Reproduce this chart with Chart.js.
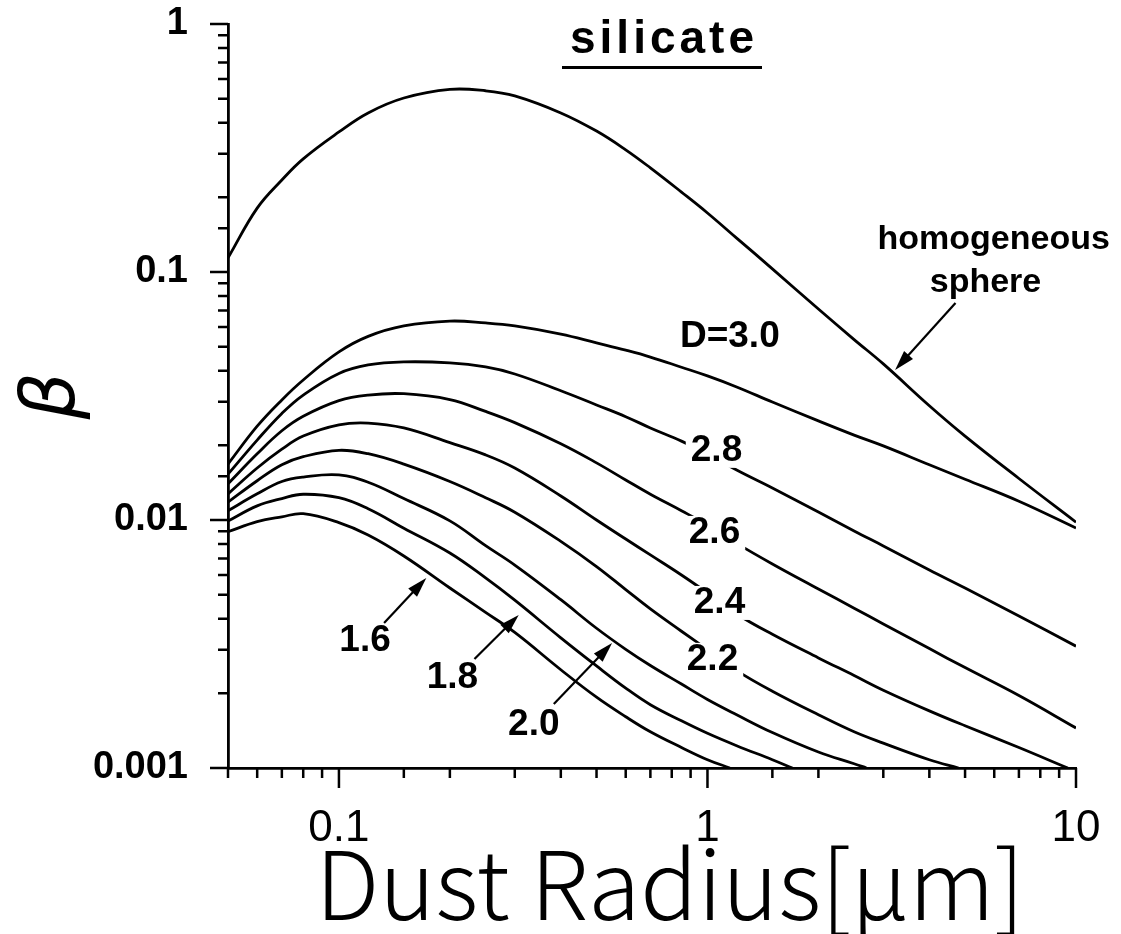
<!DOCTYPE html>
<html>
<head>
<meta charset="utf-8">
<script src="https://cdn.jsdelivr.net/npm/chart.js@4.4.1/dist/chart.umd.min.js"></script>
<style>
  html, body { margin: 0; padding: 0; background: #fff; }
</style>
</head>
<body>
<canvas id="betaChart" width="1121" height="934"></canvas>
<script>
// dust radius grid [um] shared by all curves
const radius = [0.05, 0.06, 0.07, 0.08, 0.1, 0.12, 0.15, 0.2, 0.25, 0.3, 0.4, 0.5, 0.6, 0.7, 0.85, 1, 1.2, 1.5, 2, 2.5, 3, 4, 5, 7, 10];

// beta, one list per curve
const homogeneous = [0.114, 0.181, 0.235, 0.286, 0.367, 0.438, 0.503, 0.545, 0.538, 0.513, 0.438, 0.370, 0.311, 0.263, 0.210, 0.173, 0.137, 0.103, 0.0709, 0.0534, 0.0426, 0.0289, 0.0218, 0.0147, 0.0098];
const d30 = [0.0168, 0.0239, 0.0305, 0.0367, 0.0476, 0.0550, 0.0606, 0.0634, 0.0623, 0.0606, 0.0562, 0.0518, 0.0484, 0.0454, 0.0413, 0.0381, 0.0344, 0.0299, 0.0251, 0.0220, 0.0199, 0.0167, 0.0146, 0.0119, 0.00928];
const d28 = [0.0153, 0.0210, 0.0269, 0.0319, 0.0390, 0.0422, 0.0434, 0.0430, 0.0414, 0.0388, 0.0332, 0.0291, 0.0261, 0.0235, 0.0208, 0.0185, 0.0159, 0.01346, 0.01077, 0.00903, 0.00786, 0.00629, 0.00532, 0.00410, 0.00310];
const d26 = [0.0140, 0.0185, 0.0229, 0.0262, 0.0303, 0.0319, 0.0323, 0.0306, 0.0274, 0.0247, 0.0203, 0.0170, 0.0145, 0.0127, 0.0109, 0.00954, 0.00805, 0.00665, 0.00527, 0.00441, 0.00381, 0.00303, 0.00254, 0.00196, 0.00145];
const d24 = [0.01275, 0.0162, 0.0193, 0.0218, 0.0242, 0.0246, 0.0235, 0.0205, 0.0183, 0.0162, 0.0125, 0.0100, 0.00838, 0.00723, 0.00600, 0.00508, 0.00418, 0.00346, 0.00278, 0.00236, 0.00206, 0.00170, 0.00148, 0.00121];
const d22 = [0.0118, 0.0144, 0.0167, 0.0180, 0.0191, 0.0185, 0.0168, 0.0143, 0.0123, 0.01075, 0.0082, 0.00649, 0.00524, 0.00438, 0.00356, 0.00300, 0.00247, 0.00204, 0.00164, 0.00140, 0.00126, 0.00108];
const d20 = [0.0109, 0.01275, 0.0143, 0.0149, 0.0152, 0.0142, 0.0122, 0.00992, 0.00788, 0.00658, 0.00477, 0.00366, 0.00301, 0.00259, 0.00218, 0.00189, 0.00164, 0.00139, 0.00116, 0.00104];
const d18 = [0.0099, 0.0114, 0.0122, 0.0127, 0.0123, 0.0111, 0.00927, 0.00736, 0.00584, 0.00475, 0.00335, 0.00258, 0.00210, 0.00180, 0.00155, 0.00138, 0.00123, 0.00108];
const d16 = [0.00897, 0.00985, 0.0103, 0.0106, 0.00976, 0.0087, 0.00716, 0.00532, 0.00424, 0.00352, 0.00249, 0.00193, 0.00161, 0.00140, 0.00121, 0.00108];

// radius where a curve runs into the bottom of the frame (beta = 0.001)
const curveNames = ['homogeneous', 'D=3.0', 'D=2.8', 'D=2.6', 'D=2.4', 'D=2.2', 'D=2.0', 'D=1.8', 'D=1.6'];
const curveValues = [homogeneous, d30, d28, d26, d24, d22, d20, d18, d16];
const bottomRadius = [null, null, null, null, 9.5, 4.8, 2.7, 1.7, 1.15];

const xTickLabels = ['0.1', '1', '10'];
const yTickLabels = ['0.001', '0.01', '0.1', '1'];

// text on the plot, in data coordinates
const notes = [
  { text: 'D=3.0', x: 1.15, y: 0.055 },
  { text: '2.8', x: 1.058, y: 0.0190, gap: true },
  { text: '2.6', x: 1.045, y: 0.00887, gap: true },
  { text: '2.4', x: 1.078, y: 0.00463, gap: true },
  { text: '2.2', x: 1.032, y: 0.00273, gap: true },
  { text: '1.6', x: 0.1177, y: 0.00325 },
  { text: '1.8', x: 0.2032, y: 0.00231 },
  { text: '2.0', x: 0.3378, y: 0.00150 },
  { text: 'homogeneous', x: 5.98, y: 0.1346, small: true },
  { text: 'sphere', x: 5.68, y: 0.0903, small: true }
];
const arrows = [
  { from: [4.71, 0.075], to: [3.23, 0.0403] },
  { from: [0.1326, 0.00384], to: [0.1726, 0.00584] },
  { from: [0.2332, 0.00275], to: [0.3075, 0.00414] },
  { from: [0.3829, 0.00181], to: [0.551, 0.00319] }
];

function isDecade(v) {
  const l = Math.log10(v);
  return Math.abs(l - Math.round(l)) < 1e-6;
}

const datasets = curveValues.map((vals, i) => {
  const pts = vals.map((b, j) => ({ x: radius[j], y: b }));
  if (bottomRadius[i]) pts.push({ x: bottomRadius[i], y: 0.001 });
  return { label: curveNames[i], data: pts };
});

// outward ticks, long at decades, short in between
const tickMarks = {
  id: 'tickMarks',
  afterDraw(chart) {
    const ctx = chart.ctx;
    const { x, y } = chart.scales;
    ctx.save();
    ctx.strokeStyle = '#000';
    ctx.lineWidth = 2.5;
    ctx.beginPath();
    x.ticks.forEach(t => {
      const px = x.getPixelForValue(t.value);
      ctx.moveTo(px, x.top);
      ctx.lineTo(px, x.top + (isDecade(t.value) ? 20 : 10));
    });
    y.ticks.forEach(t => {
      const py = y.getPixelForValue(t.value);
      ctx.moveTo(y.right, py);
      ctx.lineTo(y.right - (isDecade(t.value) ? 18 : 10), py);
    });
    ctx.stroke();
    ctx.restore();
  }
};

function drawArrow(ctx, x1, y1, x2, y2) {
  const a = Math.atan2(y2 - y1, x2 - x1);
  const head = 20, half = 6;
  ctx.beginPath();
  ctx.moveTo(x1, y1);
  ctx.lineTo(x2 - head * 0.8 * Math.cos(a), y2 - head * 0.8 * Math.sin(a));
  ctx.stroke();
  ctx.beginPath();
  ctx.moveTo(x2, y2);
  ctx.lineTo(x2 - head * Math.cos(a) + half * Math.sin(a), y2 - head * Math.sin(a) - half * Math.cos(a));
  ctx.lineTo(x2 - head * Math.cos(a) - half * Math.sin(a), y2 - head * Math.sin(a) + half * Math.cos(a));
  ctx.closePath();
  ctx.fill();
}

const annotations = {
  id: 'annotations',
  afterDatasetsDraw(chart) {
    const ctx = chart.ctx;
    const { x, y } = chart.scales;
    ctx.save();
    ctx.textAlign = 'center';
    ctx.textBaseline = 'middle';
    notes.forEach(n => {
      const px = x.getPixelForValue(n.x);
      const py = y.getPixelForValue(n.y);
      ctx.font = n.small ? 'bold 34px "Liberation Sans", Arial, sans-serif' : 'bold 37px "Liberation Sans", Arial, sans-serif';
      if (n.gap) {
        const w = ctx.measureText(n.text).width;
        ctx.fillStyle = '#fff';
        ctx.fillRect(px - w / 2 - 5, py - 17, w + 10, 34);
      }
      ctx.fillStyle = '#000';
      ctx.fillText(n.text, px, py);
    });
    ctx.strokeStyle = '#000';
    ctx.fillStyle = '#000';
    ctx.lineWidth = 2.2;
    arrows.forEach(a => {
      drawArrow(ctx,
        x.getPixelForValue(a.from[0]), y.getPixelForValue(a.from[1]),
        x.getPixelForValue(a.to[0]), y.getPixelForValue(a.to[1]));
    });

    // underlined heading
    ctx.font = 'bold 46px "Liberation Sans", Arial, sans-serif';
    ctx.letterSpacing = '4px';
    ctx.fillText('silicate', 664, 40);
    ctx.fillRect(562, 66, 200, 3);

    // x axis name, sits a little right of the plot centre
    ctx.letterSpacing = '0px';
    ctx.font = '300 95px "Noto Sans CJK JP", sans-serif';
    ctx.fillText('Dust Radius[μm]', 670, 884);
    ctx.restore();
  }
};

const ctx = document.getElementById('betaChart').getContext('2d');
const betaChart = new Chart(ctx, {
  type: 'line',
  data: { datasets: datasets },
  options: {
    responsive: false,
    animation: false,
    layout: { padding: { top: 24, right: 45, left: 0, bottom: 0 } },
    plugins: {
      legend: { display: false },
      tooltip: { enabled: false },
      title: { display: false }
    },
    elements: {
      point: { radius: 0 },
      line: { borderColor: '#000', borderWidth: 2.8, fill: false, tension: 0.4 }
    },
    scales: {
      x: {
        type: 'logarithmic',
        min: 0.05,
        max: 10,
        grid: { display: false, drawTicks: false },
        border: { display: true, color: '#000', width: 2.8 },
        ticks: {
          autoSkip: false,
          maxRotation: 0,
          minRotation: 0,
          padding: 34,
          color: '#000',
          font: { family: '"Liberation Sans Narrow", "Liberation Sans", sans-serif', size: 44 },
          callback: v => {
            const s = String(Math.round(v * 10) / 10);
            return isDecade(v) && xTickLabels.includes(s) ? s : '';
          }
        },
        afterFit: s => {
          s.height = 166;
          s.paddingLeft = 0;
          s.paddingRight = 0;
        }
      },
      y: {
        type: 'logarithmic',
        min: 0.001,
        max: 1,
        grid: { display: false, drawTicks: false },
        border: { display: true, color: '#000', width: 2.8 },
        ticks: {
          autoSkip: false,
          padding: 40,
          color: '#000',
          font: { family: '"Liberation Sans", Arial, sans-serif', size: 38, weight: 'bold' },
          callback: v => {
            if (!isDecade(v)) return '';
            const s = yTickLabels.find(l => Math.abs(parseFloat(l) - v) < v * 1e-6);
            return s || '';
          }
        },
        title: {
          display: true,
          text: 'β',
          color: '#000',
          padding: { top: 18, bottom: 0 },
          font: { family: '"DejaVu Sans", sans-serif', size: 74, style: 'italic', lineHeight: 1 }
        },
        afterFit: s => {
          s.width = 228;
          s.paddingTop = 0;
          s.paddingBottom = 0;
        }
      }
    }
  },
  plugins: [tickMarks, annotations]
});
</script>
</body>
</html>
